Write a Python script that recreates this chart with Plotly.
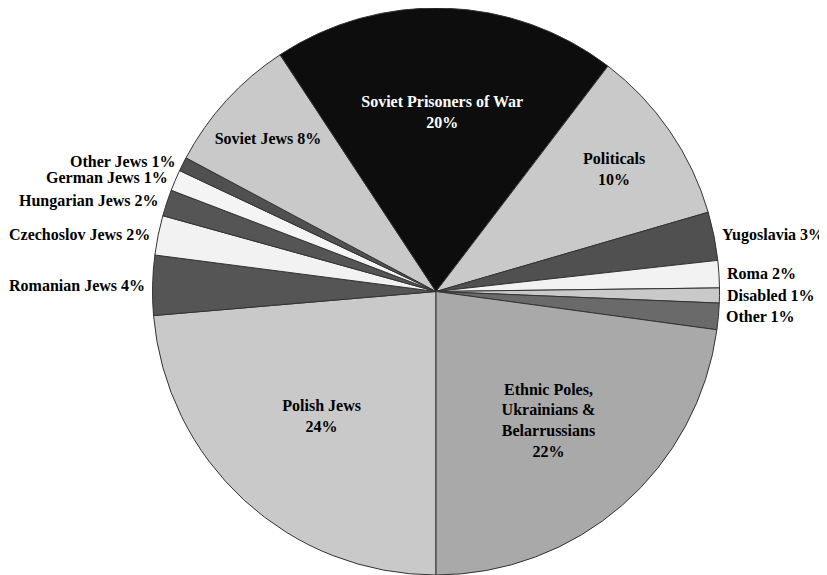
import math
import plotly.graph_objects as go

labels = ["Polish Jews", "Romanian Jews", "Czechoslov Jews", "Hungarian Jews",
          "German Jews", "Other Jews", "Soviet Jews", "Soviet Prisoners of War",
          "Politicals", "Yugoslavia", "Roma", "Disabled", "Other",
          "Ethnic Poles, Ukrainians & Belarrussians"]
values = [23.6, 3.4, 2.25, 1.5, 1.2, 0.8, 7.9, 19.6, 10.1, 2.75, 1.55, 0.85, 1.5, 22.8]
display_text = ["Polish Jews<br>24%", "Romanian Jews 4%", "Czechoslov Jews 2%", "Hungarian Jews 2%",
                "German Jews 1%", "Other Jews 1%", "Soviet Jews 8%", "Soviet Prisoners of War<br>20%",
                "Politicals<br>10%", "Yugoslavia 3%", "Roma 2%", "Disabled 1%", "Other 1%",
                "Ethnic Poles,<br>Ukrainians &<br>Belarrussians<br>22%"]
colors = ["#c9c9c9", "#555555", "#f2f2f2", "#555555", "#f4f4f4", "#505050", "#c9c9c9",
          "#0d0d0d", "#c9c9c9", "#505050", "#f2f2f2", "#c9c9c9", "#6a6a6a", "#a9a9a9"]
is_outside = [False, True, True, True, True, True, False,
              False, False, True, True, True, True, False]
font_colors = ["black"] * 7 + ["white"] + ["black"] * 6

# page body has an 8px margin, so the figure is sized to fit the window after it
W, H = 819, 567
dom_x = [0.0452, 1.0]
dom_y = [0.0, 1.0]
FONT = "Liberation Serif"
FS = 16

inside_text = [("" if o else t) for t, o in zip(display_text, is_outside)]
positions = [("none" if o else "inside") for o in is_outside]

fig = go.Figure(go.Pie(
    labels=labels, values=values, text=inside_text,
    textinfo="text", textposition=positions,
    texttemplate="<b>%{text}</b>",
    insidetextorientation="horizontal",
    sort=False, direction="clockwise", rotation=180,
    marker=dict(colors=colors, line=dict(color="#333333", width=1)),
    textfont=dict(family=FONT, size=FS, color=font_colors),
    domain=dict(x=dom_x, y=dom_y),
    showlegend=False, hoverinfo="label+percent",
))

# outside labels placed at the mid-angle of each small slice, just beyond the rim
cx = (dom_x[0] + dom_x[1]) / 2
cy = (dom_y[0] + dom_y[1]) / 2
r_px = min((dom_x[1] - dom_x[0]) * W, (dom_y[1] - dom_y[0]) * H) / 2
total = sum(values)
start = 180.0
annotations = []
for v, t, o in zip(values, display_text, is_outside):
    span = v / total * 360.0
    mid = math.radians(start + span / 2)
    start += span
    if not o:
        continue
    rr = r_px + 6
    x = cx + rr * math.sin(mid) / W
    y = cy + rr * math.cos(mid) / H
    annotations.append(dict(
        x=x, y=y, xref="paper", yref="paper", text="<b>%s</b>" % t,
        showarrow=False, xanchor="left" if math.sin(mid) > 0 else "right",
        yanchor="middle", font=dict(family=FONT, size=FS, color="black")))

fig.update_layout(width=W, height=H, margin=dict(l=0, r=0, t=0, b=0),
                  paper_bgcolor="white", plot_bgcolor="white",
                  font=dict(family=FONT), annotations=annotations)
fig.write_html("out.html")
